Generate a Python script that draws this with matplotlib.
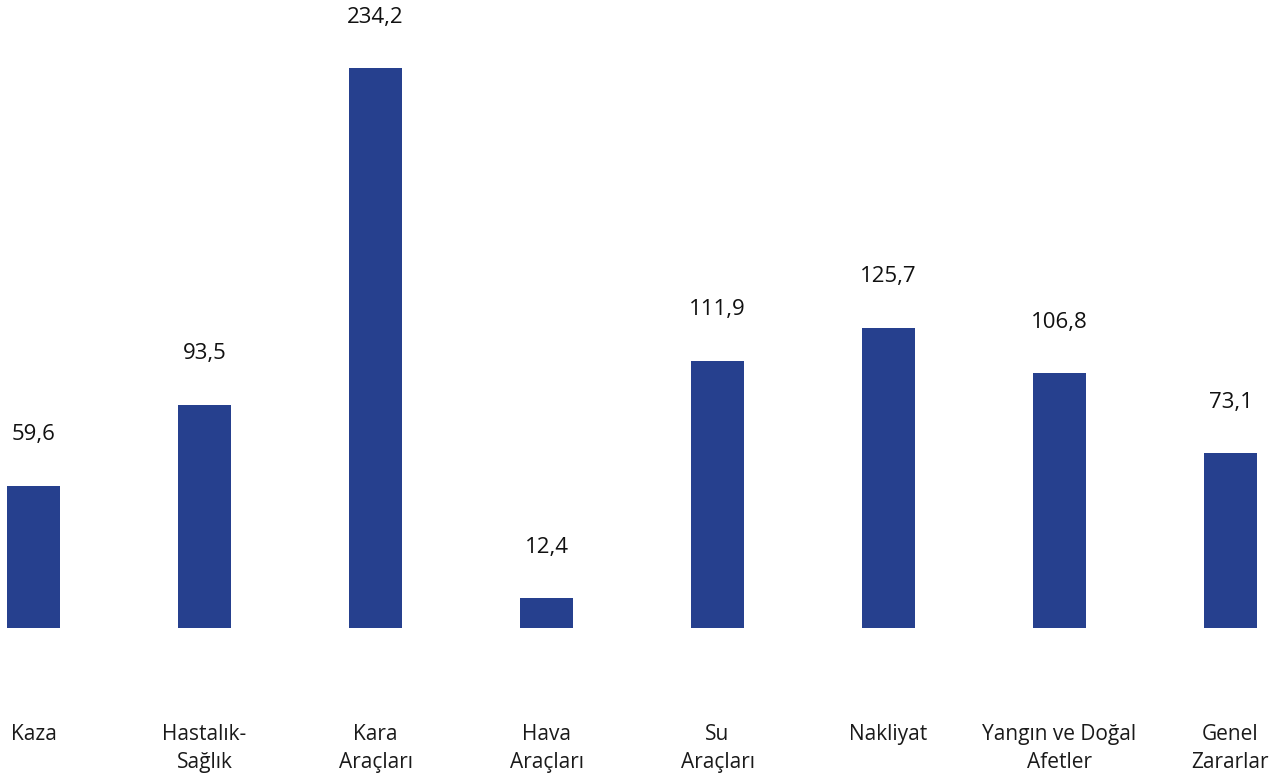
import matplotlib
matplotlib.use("Agg")
import matplotlib.pyplot as plt

# Branch values (premium growth, %)
categories = ["Kaza", "Hastalık-\nSağlık", "Kara\nAraçları", "Hava\nAraçları",
              "Su\nAraçları", "Nakliyat", "Yangın ve Doğal\nAfetler", "Genel\nZararlar"]
values = [59.6, 93.5, 234.2, 12.4, 111.9, 125.7, 106.8, 73.1]
value_labels = ["59,6", "93,5", "234,2", "12,4", "111,9", "125,7", "106,8", "73,1"]

bar_color = "#26408E"

fig = plt.figure(figsize=(12.77, 7.73), dpi=100)
ax = fig.add_axes([0, 0, 1, 1])

x = list(range(len(categories)))
ax.bar(x, values, width=0.31, color=bar_color)

# value labels above each bar
for xi, v, lab in zip(x, values, value_labels):
    ax.annotate(lab, (xi, v), xytext=(0, 36.5), textcoords="offset points",
                ha="center", va="center", fontsize=16, family="Open Sans",
                color="#111111")

# category names under the baseline
for xi, name in zip(x, categories):
    ax.text(xi, -40.0, name, ha="center", va="top", fontsize=15,
            family="Open Sans", color="#1a1a1a", linespacing=1.48)

ax.set_xlim(-0.196, 7.272)
ax.set_ylim(-60.7, 262.8)
ax.axis("off")

fig.savefig("out.png", dpi=100)
